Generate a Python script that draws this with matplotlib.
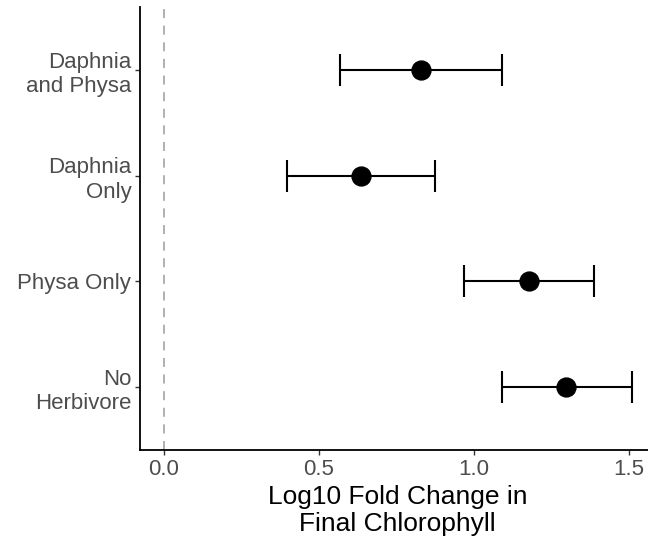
import numpy as np
import matplotlib
matplotlib.use('Agg')
import matplotlib.pyplot as plt

plt.rcParams['font.family'] = ['Liberation Sans', 'DejaVu Sans']

# treatments, bottom to top
treatments = ['No\nHerbivore', 'Physa Only', 'Daphnia\nOnly', 'Daphnia\nand Physa']
mean_change = [1.297, 1.176, 0.636, 0.830]
lower_ci = [1.089, 0.968, 0.397, 0.568]
upper_ci = [1.508, 1.387, 0.875, 1.091]

mean_change = np.array(mean_change)
err = [mean_change - np.array(lower_ci), np.array(upper_ci) - mean_change]
ypos = np.arange(1, len(treatments) + 1)

fig = plt.figure(figsize=(6.48, 5.43), dpi=100)
ax = fig.add_axes([0.2165, 0.1705, 0.7943, 0.8168])

ax.axvline(0, color='#aaaaaa', lw=1.3, ls=(0, (5, 4.2)), zorder=1)
ax.errorbar(mean_change, ypos, xerr=err, fmt='o', color='black', ms=13.6,
            elinewidth=1.5, capsize=11.2, capthick=1.5, zorder=3)

ax.set_xlim(-0.0754, 1.583)
ax.set_ylim(0.4, 4.6)
ax.set_xticks([0.0, 0.5, 1.0, 1.5])
ax.set_xticklabels(['0.0', '0.5', '1.0', '1.5'])
ax.set_yticks(ypos)
ax.set_yticklabels(treatments)

for s in ['top', 'right']:
    ax.spines[s].set_visible(False)
for s in ['left', 'bottom']:
    ax.spines[s].set_linewidth(1.3)
    ax.spines[s].set_color('black')

ax.tick_params(axis='both', length=3.5, width=1.0, color='#333333',
               labelcolor='#4d4d4d', labelsize=16, pad=3)
ax.set_xlabel('Log10 Fold Change in\nFinal Chlorophyll', fontsize=19,
              color='black', labelpad=3, linespacing=1.2)

fig.savefig('out.png', dpi=100)
